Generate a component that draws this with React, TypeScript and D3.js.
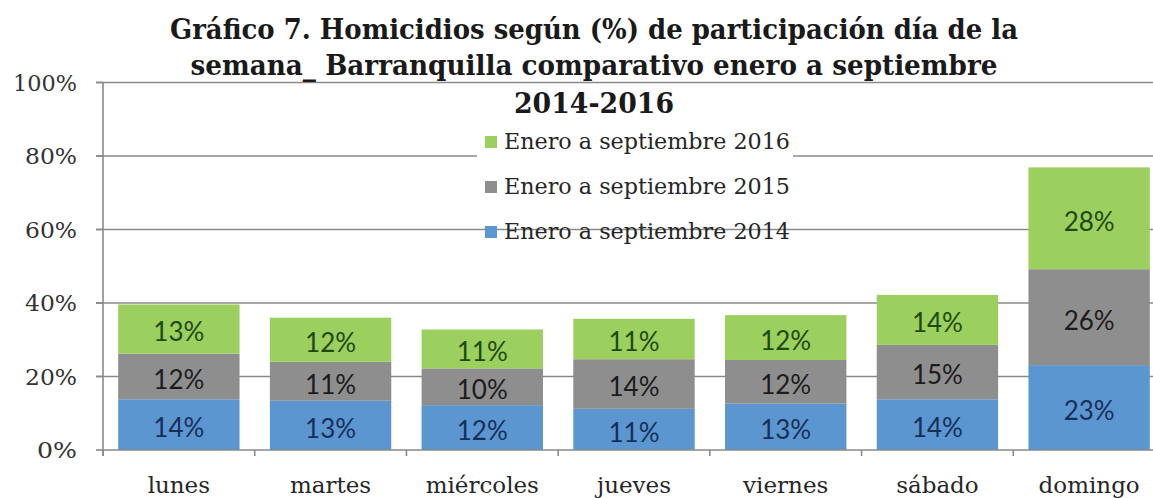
import React, { useEffect } from "react";
import * as d3 from "d3";

const days = ["lunes", "martes", "miércoles", "jueves", "viernes", "sábado", "domingo"];
const s2014 = [13.8, 13.4, 12.2, 11.2, 12.6, 13.8, 23.1];
const s2015 = [12.4, 10.6, 10.0, 13.5, 11.9, 14.8, 26.1];
const s2016 = [13.4, 12.0, 10.6, 11.0, 12.2, 13.6, 27.7];
const seriesNames = ["Enero a septiembre 2014", "Enero a septiembre 2015", "Enero a septiembre 2016"];
const seriesColors = ["#5B96D0", "#8E8E8E", "#9BCF5E"];
const labelColors = ["#172F58", "#1c1c1c", "#1E4A12"];
const yTicks = [0, 20, 40, 60, 80, 100];
const titleLines = [
  "Gráfico 7. Homicidios según (%) de participación día de la",
  "semana_ Barranquilla comparativo enero a septiembre",
  "2014-2016",
];

const W = 1153;
const H = 498;

export default function App() {
  useEffect(() => {
    document.body.style.margin = "0";
    document.body.style.overflow = "hidden";
  }, []);

  const x = d3.scaleBand<string>().domain(days).range([103, 1165]).paddingInner(0.2).paddingOuter(0.1);
  const y = d3.scaleLinear().domain([0, 100]).range([450, 82.5]);

  const table = days.map((d, i) => ({ day: d, s0: s2014[i], s1: s2015[i], s2: s2016[i] }));
  const stacked = d3.stack<any>().keys(["s0", "s1", "s2"])(table);

  const step = x.step();
  const boundaries = d3.range(days.length + 1).map((i) => 103 + i * step);

  const titleWidths = [848, 807, 160];
  const titleY = [39, 75, 113];
  const legendRows = [2, 1, 0];
  const legendY = [149, 194, 239];

  return (
    <svg width={W} height={H} style={{ position: "absolute", left: 0, top: 0, display: "block", background: "#fff" }}>
      <rect x={0} y={0} width={W} height={H} fill="#fff" />
      {/* gridlines */}
      {yTicks.filter((t) => t > 0).map((t) => (
        <line key={t} x1={96} x2={1165} y1={y(t)} y2={y(t)} stroke="#8a8a8a" strokeWidth={1.6} />
      ))}
      {/* legend background */}
      <rect x={477} y={124} width={316} height={97} fill="#fff" />
      {/* bars */}
      {stacked.map((layer, si) => (
        <g key={si}>
          {layer.map((seg, di) => (
            <rect
              key={di}
              x={x(days[di])}
              y={y(seg[1])}
              width={x.bandwidth()}
              height={y(seg[0]) - y(seg[1])}
              fill={seriesColors[si]}
            />
          ))}
        </g>
      ))}
      {/* bar labels */}
      {stacked.map((layer, si) => (
        <g key={"l" + si}>
          {layer.map((seg, di) => (
            <text
              key={di}
              x={(x(days[di]) as number) + x.bandwidth() / 2}
              y={(y(seg[0]) + y(seg[1])) / 2 + 3}
              dy="0.36em"
              textAnchor="middle"
              fontFamily="Lato, 'Open Sans', sans-serif"
              fontSize={26}
              fill={labelColors[si]}
            >
              {Math.round(seg[1] - seg[0]) + "%"}
            </text>
          ))}
        </g>
      ))}
      {/* axes */}
      <line x1={103} x2={103} y1={82.5} y2={456} stroke="#8a8a8a" strokeWidth={1.6} />
      <line x1={103} x2={1165} y1={450} y2={450} stroke="#8a8a8a" strokeWidth={1.6} />
      {yTicks.map((t) => (
        <line key={"yt" + t} x1={96} x2={103} y1={y(t)} y2={y(t)} stroke="#8a8a8a" strokeWidth={1.6} />
      ))}
      {boundaries.map((b, i) => (
        <line key={"xt" + i} x1={b} x2={b} y1={450} y2={456} stroke="#8a8a8a" strokeWidth={1.6} />
      ))}
      {yTicks.map((t) => (
        <text
          key={"yl" + t}
          x={77}
          y={y(t)}
          dy="0.36em"
          textAnchor="end"
          fontFamily="'DejaVu Serif', serif"
          fontSize={23}
          fill="#333"
          textLength={t === 100 ? 64 : t === 0 ? 40 : 52}
          lengthAdjust="spacingAndGlyphs"
        >
          {t + "%"}
        </text>
      ))}
      {days.map((d) => (
        <text
          key={"xl" + d}
          x={(x(d) as number) + x.bandwidth() / 2}
          y={493}
          textAnchor="middle"
          fontFamily="'DejaVu Serif', serif"
          fontSize={23}
          fill="#262626"
        >
          {d}
        </text>
      ))}
      {/* legend */}
      {legendRows.map((si, r) => (
        <g key={"lg" + si}>
          <rect x={485} y={legendY[r] - 13} width={12} height={12} fill={seriesColors[si]} />
          <text
            x={504}
            y={legendY[r]}
            fontFamily="'DejaVu Serif', serif"
            fontSize={22}
            fill="#262626"
            textLength={286}
            lengthAdjust="spacingAndGlyphs"
          >
            {seriesNames[si]}
          </text>
        </g>
      ))}
      {/* title */}
      {titleLines.map((t, i) => (
        <text
          key={"t" + i}
          x={594}
          y={titleY[i]}
          textAnchor="middle"
          fontFamily="'DejaVu Serif', serif"
          fontWeight="bold"
          fontSize={28}
          fill="#1a1a1a"
          textLength={titleWidths[i]}
          lengthAdjust="spacingAndGlyphs"
        >
          {t}
        </text>
      ))}
    </svg>
  );
}
